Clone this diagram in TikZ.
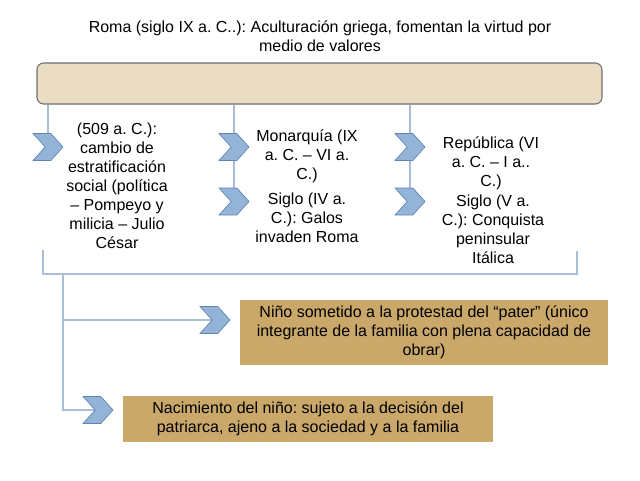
\documentclass[tikz,border=0pt]{standalone}
\usepackage{fontspec}
\setmainfont{Liberation Sans}
\frenchspacing
\usetikzlibrary{shapes.symbols, backgrounds}
\definecolor{cbeige}{HTML}{EADDC4}
\definecolor{cedge}{HTML}{6E6E6E}
\definecolor{cblue}{HTML}{93B3D7}
\definecolor{cbluedk}{HTML}{5F85B3}
\definecolor{cline}{HTML}{A9BED4}
\definecolor{ctan}{HTML}{C9A86A}
\tikzset{
  every picture/.style={font=\fontsize{12}{14.25}\selectfont},
  band/.style={draw=cedge, fill=cbeige, rounded corners=5pt, line width=0.8pt, minimum width=423.75pt, minimum height=30.75pt},
  chev/.style={shape=signal, signal to=east, signal from=west, signal pointer angle=96, fill=cblue, draw=cbluedk, line width=0.5pt, minimum width=22.5pt, minimum height=20.25pt, inner sep=0pt},
  link/.style={draw=cline, line width=0.9pt},
  txt/.style={align=center, inner sep=0pt},
  panel/.style={fill=ctan, align=center, inner sep=0pt},
}

\begin{document}
\begin{tikzpicture}[x=0.75pt, y=-0.75pt]
  \useasboundingbox (0,0) rectangle (640,480);
  \node[txt] (title) at (320,36.5) {Roma (siglo IX a. C..): Aculturación griega, fomentan la virtud por\\medio de valores};
  \node[band] (bar) at (319.5,83.5) {};
  % upper columns
  \node[chev] (c1) at (48,147) {};
  \node[chev] (c2a) at (234,147) {};
  \node[chev] (c2b) at (234,201.5) {};
  \node[chev] (c3a) at (410,147) {};
  \node[chev] (c3b) at (410,201.5) {};
  \node[txt] (t1) at (117,186) {(509 a. C.):\\cambio de\\estratificación\\social (política\\– Pompeyo y\\milicia – Julio\\César};
  \node[txt] (t2a) at (307,156) {Monarquía (IX\\a. C. – VI a.\\C.)};
  \node[txt] (t2b) at (307,218) {Siglo (IV a.\\C.): Galos\\invaden Roma};
  \node[txt] (t3a) at (491,163) {República (VI\\a. C. – I a..\\C.)};
  \node[txt] (t3b) at (493,229.5) {Siglo (V a.\\C.): Conquista\\peninsular\\Itálica};
  % lower rows
  \coordinate (stem) at (63,274);
  \node[chev] (d1) at (215,320) {};
  \node[chev] (d2) at (98,410) {};
  \node[panel, minimum width=276pt, minimum height=48.75pt] (pater) at (424,332.5) {Niño sometido a la protestad del “pater” (único\\integrante de la familia con plena capacidad de\\obrar)};
  \node[panel, minimum width=277.5pt, minimum height=34.5pt] (birth) at (308,419) {Nacimiento del niño: sujeto a la decisión del\\patriarca, ajeno a la sociedad y a la familia};
  \begin{scope}[on background layer]
    \draw[link] (bar.south -| c1) -- (c1);
    \draw[link] (bar.south -| c2b) -- (c2b);
    \draw[link] (bar.south -| c3b) -- (c3b);
    \draw[link] (43,250) |- (577,274) -- (577,251);
    \draw[link] (stem) |- (d2.west);
    \draw[link] (stem |- d1.west) -- (d1.west);
  \end{scope}
\end{tikzpicture}
\end{document}
